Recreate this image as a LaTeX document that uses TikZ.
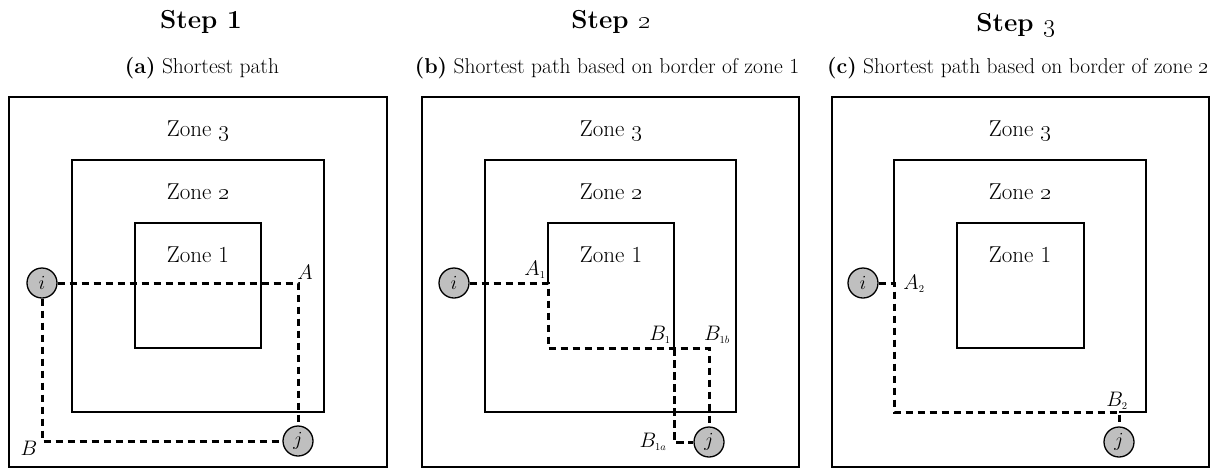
\RequirePackage{fix-cm}
\documentclass[tikz,border=0pt]{standalone}
\usepackage{tikz}

\tikzset{
  zone/.style={draw, line width=1.9pt},
  route/.style={line width=3pt, dash pattern=on 7.5pt off 4.5pt},
  stop/.style={circle, draw, line width=1.3pt, fill=black!25, minimum size=30pt,
    inner sep=0pt, font=\fontsize{20}{20}\selectfont},
  lbl/.style={inner sep=0pt, font=\fontsize{21}{21}\selectfont},
  zlbl/.style={inner sep=0pt, anchor=base, font=\fontsize{23}{27}\selectfont},
  heading/.style={inner sep=0pt, anchor=base, font=\bfseries\fontsize{26}{30}\selectfont},
  caption/.style={inner sep=0pt, anchor=base, font=\fontsize{21.5}{25}\selectfont},
}

\begin{document}
\begin{tikzpicture}[x=1pt, y=-1pt]
\useasboundingbox (0,0) rectangle (1225,475);

% ---------- headings ----------
\node[heading] (h1) at (201,28) {Step 1};
\node[heading] (h2) at (611,28) {Step \oldstylenums{2}};
\node[heading] (h3) at (1016,31) {Step \oldstylenums{3}};
\node[caption] (c1) at (202,73) {\textbf{(a)} Shortest path};
\node[caption] (c2) at (607,73) {\textbf{(b)} Shortest path based on border of zone 1};
\node[caption] (c3) at (1018,73) {\textbf{(c)} Shortest path based on border of zone \oldstylenums{2}};

% ---------- panel (a) ----------
\draw[zone] (9,97) rectangle (387,467);
\draw[zone] (72,160) rectangle (324,412);
\draw[zone] (135,223) rectangle (261,348);
\node[zlbl] (z3a) at (198,136) {Zone \oldstylenums{3}};
\node[zlbl] (z2a) at (198,199) {Zone \oldstylenums{2}};
\node[zlbl] (z1a) at (198,262) {Zone 1};

\node[stop] (ia) at (42,283) {$i$};
\node[stop] (ja) at (298,441) {$j$};
\coordinate (Aa) at (298,283);
\coordinate (Ba) at (42,441);
\draw[route] (ia) -- (Aa) -- (ja);
\draw[route] (ia) -- (Ba) -- (ja);
\node[lbl] (lAa) at (305,272) {$A$};
\node[lbl] (lBa) at (29,448) {$B$};

% ---------- panel (b) ----------
\draw[zone] (422,97) rectangle (799,467);
\draw[zone] (485,160) rectangle (736,412);
\coordinate (A1) at (548,283);
\coordinate (A1d) at (548,348);
\coordinate (B1) at (674,348);
\coordinate (B1b) at (709,348);
\coordinate (B1a) at (674,442);
\draw[zone] (A1) -- (548,223) -- (674,223) -- (B1);
\node[zlbl] (z3b) at (611,136) {Zone \oldstylenums{3}};
\node[zlbl] (z2b) at (611,199) {Zone \oldstylenums{2}};
\node[zlbl] (z1b) at (611,262) {Zone 1};

\node[stop] (ib) at (454,283) {$i$};
\node[stop] (jb) at (709,442) {$j$};
\draw[route] (ib) -- (A1) -- (A1d) -- (B1b) -- (jb);
\draw[route] (B1) -- (B1a) -- (jb);
\node[lbl] (lA1) at (535,270) {$A_{\scriptscriptstyle 1}$};
\node[lbl] (lB1) at (660,335) {$B_{\scriptscriptstyle 1}$};
\node[lbl] (lB1b) at (717,335) {$B_{\scriptscriptstyle 1b}$};
\node[lbl] (lB1a) at (653,442) {$B_{\scriptscriptstyle 1a}$};

% ---------- panel (c) ----------
\draw[zone] (832,97) rectangle (1209,467);
\draw[zone] (957,223) rectangle (1084,348);
\coordinate (A2) at (894,283);
\coordinate (A2d) at (894,412);
\coordinate (B2) at (1119,412);
\draw[zone] (A2) -- (894,160) -- (1146,160) -- (1146,412) -- (B2);
\node[zlbl] (z3c) at (1020,136) {Zone \oldstylenums{3}};
\node[zlbl] (z2c) at (1020,199) {Zone \oldstylenums{2}};
\node[zlbl] (z1c) at (1020,262) {Zone 1};

\node[stop] (ic) at (863,283) {$i$};
\node[stop] (jc) at (1119,442) {$j$};
\draw[route] (ic) -- (A2) -- (A2d) -- (B2) -- (jc);
\node[lbl] (lA2) at (914,284) {$A_{\scriptscriptstyle 2}$};
\node[lbl] (lB2) at (1117,401) {$B_{\scriptscriptstyle 2}$};
\end{tikzpicture}
\end{document}
